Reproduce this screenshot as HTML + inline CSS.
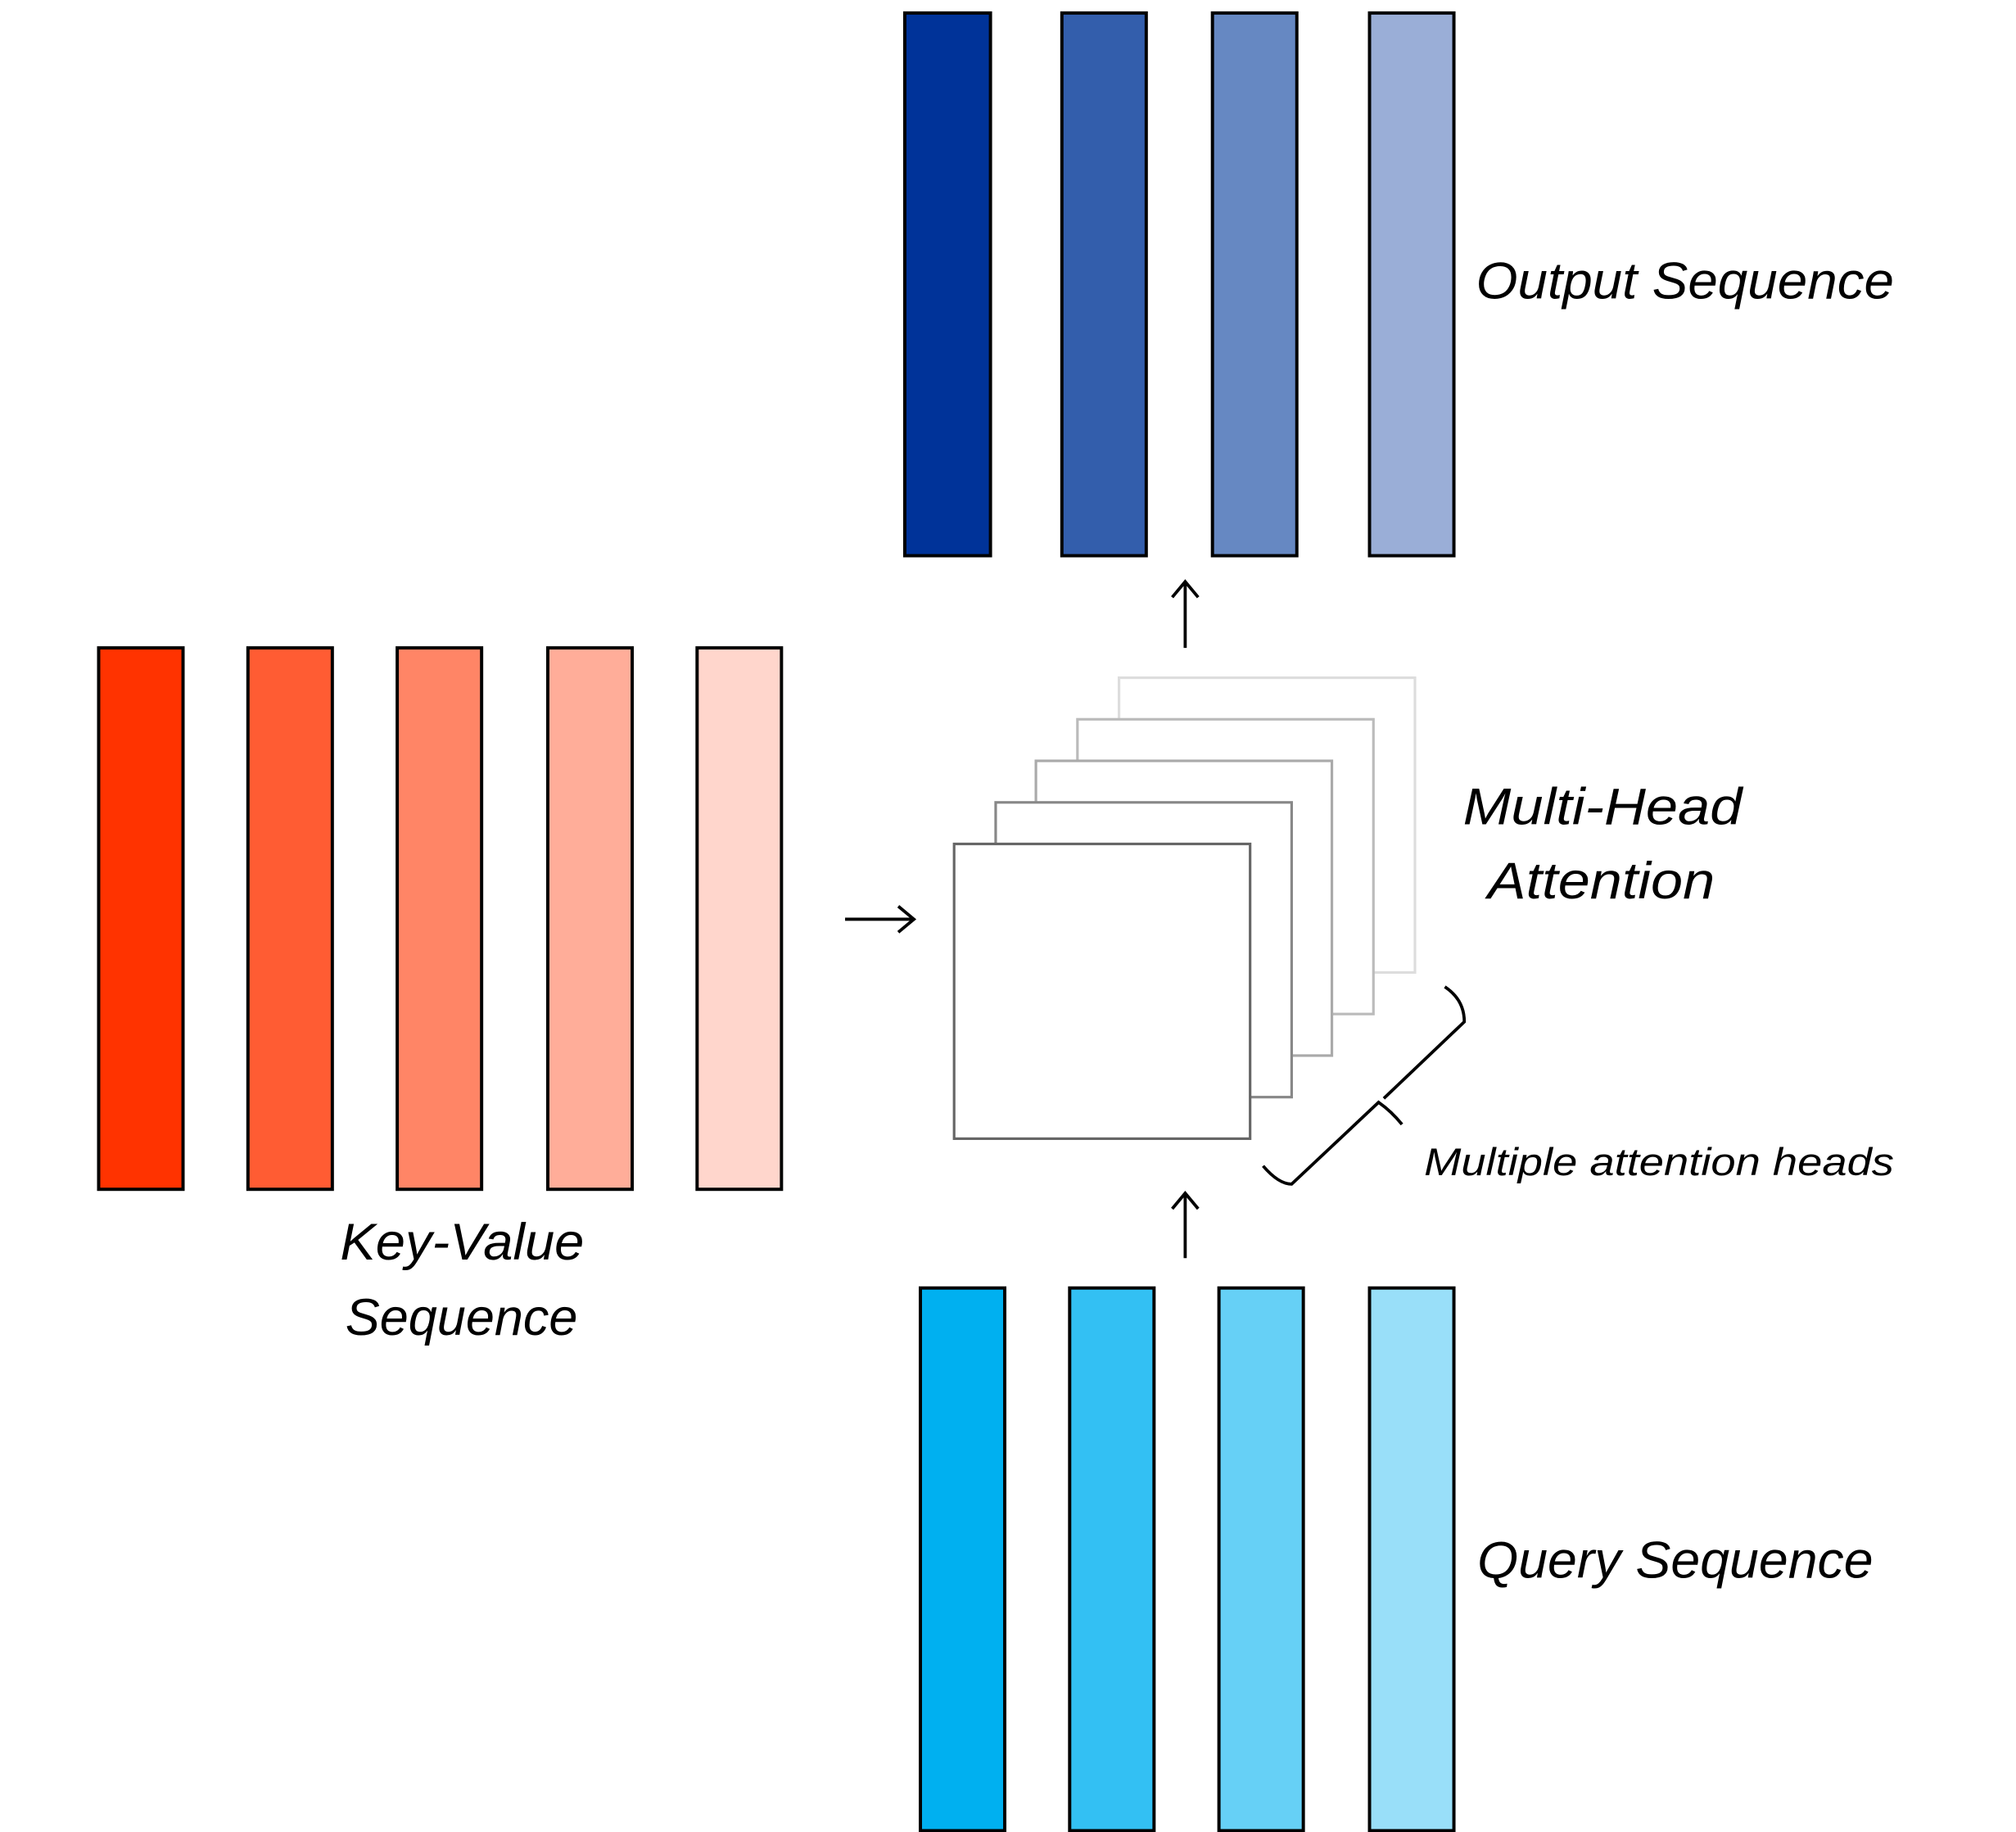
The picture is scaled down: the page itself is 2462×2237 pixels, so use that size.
<!DOCTYPE html>
<html><head><meta charset="utf-8"><style>html,body{margin:0;padding:0;background:#fff}svg{display:block}</style></head>
<body>
<svg width="2462" height="2237" viewBox="0 0 1553 1411" xmlns="http://www.w3.org/2000/svg" preserveAspectRatio="none">
<g stroke="#000" stroke-width="2.5">
<rect x="697" y="10" width="66" height="418" fill="#003399"/>
<rect x="818" y="10" width="65" height="418" fill="#335eac"/>
<rect x="934" y="10" width="65" height="418" fill="#6688c2"/>
<rect x="1055" y="10" width="65" height="418" fill="#9aaed7"/>
<rect x="76" y="499" width="65" height="417" fill="#ff3300"/>
<rect x="191" y="499" width="65" height="417" fill="#ff5c33"/>
<rect x="306" y="499" width="65" height="417" fill="#ff8566"/>
<rect x="422" y="499" width="65" height="417" fill="#ffad99"/>
<rect x="537" y="499" width="65" height="417" fill="#ffd6cc"/>
<rect x="709" y="992" width="65" height="418" fill="#00b0f0"/>
<rect x="824" y="992" width="65" height="418" fill="#33c0f3"/>
<rect x="939" y="992" width="65" height="418" fill="#66d0f6"/>
<rect x="1055" y="992" width="65" height="418" fill="#99dff9"/>
</g>
<g fill="#fff" stroke-width="2">
<rect x="862" y="522" width="228" height="227" stroke="#dddddd"/>
<rect x="830" y="554" width="228" height="227" stroke="#bbbbbb"/>
<rect x="798" y="586" width="228" height="227" stroke="#aaaaaa"/>
<rect x="767" y="618" width="228" height="227" stroke="#888888"/>
<rect x="735" y="650" width="228" height="227" stroke="#666666"/>
</g>
<g stroke="#000" stroke-width="2.4" fill="none">
<path d="M651 708 H704 M692 698 L704 708 L692 718"/>
<path d="M913 499 V448 M903 460 L913 448 L923 460"/>
<path d="M913 969 V919 M903 931 L913 919 L923 931"/>
<path d="M973 898 Q985 912 995 912 L1062 849 Q1072 856 1080 866 M1066 846 L1128 787 Q1128 770 1113 760"/>
</g>
<g font-family="'Liberation Sans', sans-serif" font-style="italic" fill="#000">
<text x="1137" y="230" font-size="40" textLength="322" lengthAdjust="spacingAndGlyphs">Output Sequence</text>
<text x="1127" y="635" font-size="40" textLength="215" lengthAdjust="spacingAndGlyphs">Multi-Head</text>
<text x="1146" y="692" font-size="40" textLength="175" lengthAdjust="spacingAndGlyphs">Attention</text>
<text x="1097" y="905" font-size="30" textLength="362" lengthAdjust="spacingAndGlyphs">Multiple attention heads</text>
<text x="262" y="970" font-size="40" textLength="188" lengthAdjust="spacingAndGlyphs">Key-Value</text>
<text x="266" y="1028" font-size="40" textLength="179" lengthAdjust="spacingAndGlyphs">Sequence</text>
<text x="1138" y="1215" font-size="40" textLength="305" lengthAdjust="spacingAndGlyphs">Query Sequence</text>
</g>
</svg>
</body></html>
